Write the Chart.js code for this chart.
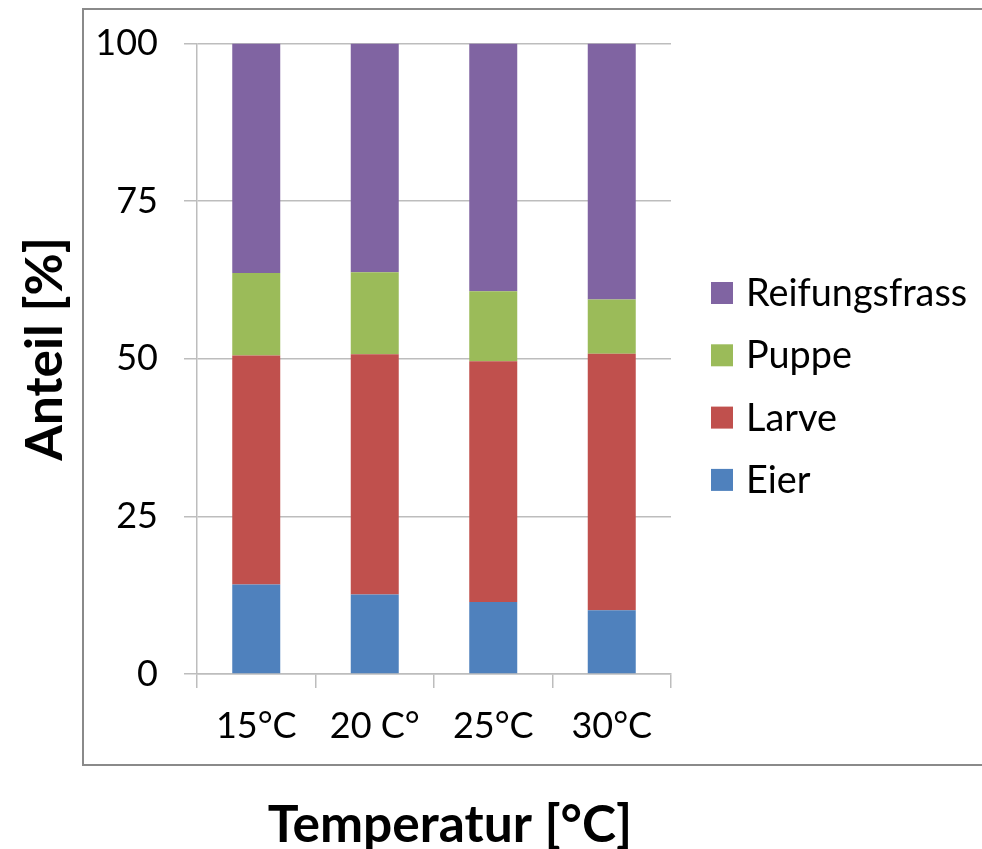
<!DOCTYPE html>
<html>
<head>
<meta charset="utf-8">
<script src="https://cdn.jsdelivr.net/npm/chart.js@4"></script>
<style>
  html, body { margin: 0; padding: 0; background: #ffffff; }
  #wrap { position: relative; width: 982px; height: 849px; }
  canvas { display: block; }
</style>
</head>
<body>
<div id="wrap"><canvas id="c" width="982" height="849"></canvas></div>
<script>
// Entwicklungsstadien je Temperatur (Anteil in %)
const categories = ['15°C', '20 C°', '25°C', '30°C'];
const eier = [14.2, 12.6, 11.4, 10.1];
const larve = [36.3, 38.1, 38.2, 40.7];
const puppe = [13.1, 13.0, 11.1, 8.6];
const reifungsfrass = [36.4, 36.3, 39.3, 40.6];
const yTicks = [0, 25, 50, 75, 100];

const seriesNames = ['Eier', 'Larve', 'Puppe', 'Reifungsfrass'];
const seriesColors = ['#4F81BD', '#C0504D', '#9BBB59', '#8064A2'];
const xTitle = 'Temperatur [°C]';
const yTitle = 'Anteil [%]';

const FONT = 'Lato, "Open Sans", sans-serif';
const GRID = '#bdbdbd';

// Rahmen, Achsentitel und Legende
const decor = {
  id: 'decor',
  beforeDraw(chart) {
    const ctx = chart.ctx;
    ctx.save();
    ctx.strokeStyle = '#8a8a8a';
    ctx.lineWidth = 2;
    ctx.beginPath();
    ctx.moveTo(990, 9);
    ctx.lineTo(83, 9);
    ctx.lineTo(83, 765);
    ctx.lineTo(990, 765);
    ctx.stroke();
    ctx.restore();
  },
  afterDraw(chart) {
    const ctx = chart.ctx;
    ctx.save();
    ctx.fillStyle = '#000';
    ctx.textAlign = 'center';
    ctx.textBaseline = 'alphabetic';
    ctx.font = 'bold 51.5px ' + FONT;
    ctx.fillText(xTitle, 450, 842);
    ctx.translate(62, 349);
    ctx.rotate(-Math.PI / 2);
    ctx.fillText(yTitle, 0, 0);
    ctx.restore();

    // Legende (umgekehrte Reihenfolge)
    ctx.save();
    ctx.font = '37.8px ' + FONT;
    ctx.textAlign = 'left';
    ctx.textBaseline = 'alphabetic';
    const ds = chart.data.datasets;
    for (let i = 0; i < ds.length; i++) {
      const d = ds[ds.length - 1 - i];
      const cy = 293 + i * 62.3;
      ctx.fillStyle = d.backgroundColor;
      ctx.fillRect(711, cy - 11, 22, 22);
      ctx.fillStyle = '#000';
      ctx.fillText(d.label, 746, cy + 13);
    }
    ctx.restore();
  }
};

const values = [eier, larve, puppe, reifungsfrass];

new Chart(document.getElementById('c'), {
  type: 'bar',
  data: {
    labels: categories,
    datasets: seriesNames.map((name, i) => ({
      label: name,
      data: values[i],
      backgroundColor: seriesColors[i],
      borderWidth: 0,
      categoryPercentage: 1.0,
      barPercentage: 0.405
    }))
  },
  options: {
    responsive: false,
    animation: false,
    layout: { padding: { left: 0, right: 311, top: 43.5, bottom: 75 } },
    plugins: {
      legend: { display: false },
      tooltip: { enabled: false },
      title: { display: false }
    },
    scales: {
      x: {
        stacked: true,
        afterFit(scale) { scale.height = 100; },
        grid: {
          display: true,
          offset: true,
          drawOnChartArea: false,
          drawTicks: true,
          tickLength: 14,
          color: GRID,
          lineWidth: 1.5
        },
        border: { display: true, color: GRID, width: 1.5 },
        ticks: {
          color: '#000',
          font: { family: FONT, size: 36 },
          padding: 17,
          maxRotation: 0,
          autoSkip: false
        }
      },
      y: {
        stacked: true,
        min: 0,
        max: 100,
        afterFit(scale) {
          scale.width = 197;
          scale.paddingTop = 0;
          scale.paddingBottom = 0;
        },
        afterBuildTicks(scale) { scale.ticks = yTicks.map(v => ({ value: v })); },
        grid: {
          color: GRID,
          lineWidth: 1.5,
          drawTicks: true,
          tickLength: 13
        },
        border: { display: true, color: GRID, width: 1.5 },
        ticks: {
          color: '#000',
          font: { family: FONT, size: 36, lineHeight: 1.0 },
          padding: 26
        }
      }
    }
  },
  plugins: [decor]
});
</script>
</body>
</html>
